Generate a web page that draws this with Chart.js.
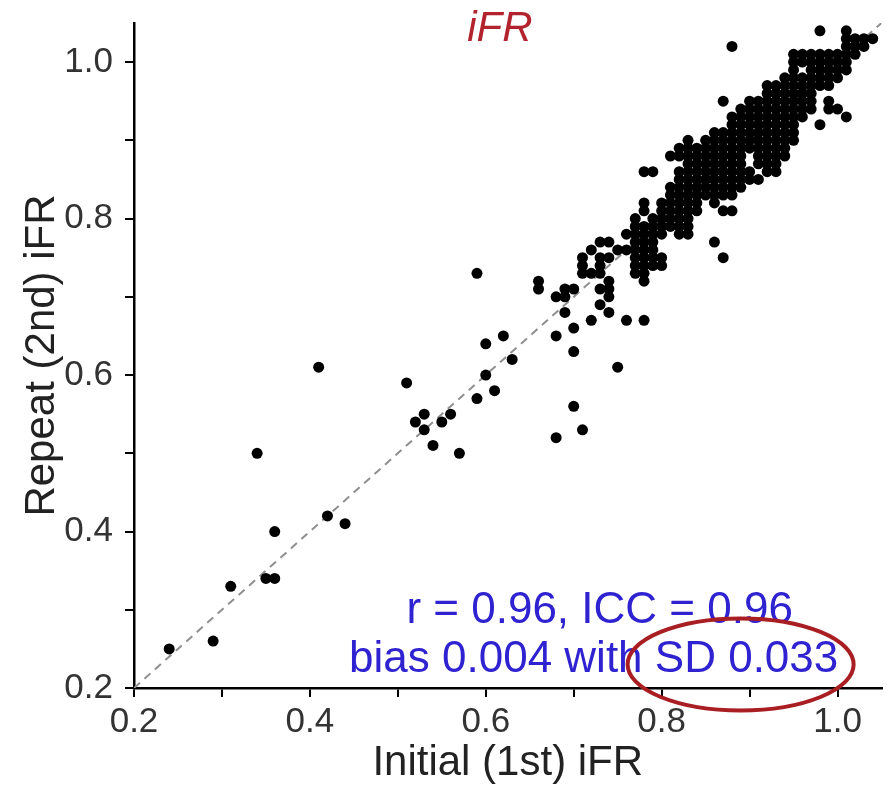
<!DOCTYPE html>
<html>
<head>
<meta charset="utf-8">
<script src="https://cdn.jsdelivr.net/npm/chart.js@4.4.1/dist/chart.umd.min.js"></script>
<style>
  body { margin: 0; background: #fff; }
  #wrap { width: 887px; height: 786px; position: relative; }
</style>
</head>
<body>
<div id="wrap"><canvas id="grafico-ifr"></canvas></div>
<script>
// Repeat (2nd) iFR value of each row of dots
const repeatRows = [
  1.04, 1.03, 1.02, 1.01, 1.00, 0.99, 0.98, 0.97, 0.96, 0.95,
  0.94, 0.93, 0.92, 0.91, 0.90, 0.89, 0.88, 0.87, 0.86, 0.85,
  0.84, 0.83, 0.82, 0.81, 0.80, 0.79, 0.78, 0.77, 0.76, 0.75,
  0.74, 0.73, 0.72, 0.71, 0.70, 0.69, 0.68, 0.67, 0.66, 0.65,
  0.64, 0.63, 0.62, 0.61, 0.60, 0.59, 0.58, 0.57, 0.56, 0.55,
  0.54, 0.53, 0.52, 0.51, 0.50, 0.42, 0.41, 0.40, 0.34, 0.33,
  0.26, 0.25
];

// Initial (1st) iFR values of the dots on each of those rows
const initialByRow = [
  [0.98, 1.01],
  [1.01, 1.02, 1.03, 1.04],
  [0.88, 1.01, 1.02, 1.03],
  [0.95, 0.96, 0.97, 0.98, 0.99, 1.00, 1.01, 1.02],
  [0.95, 0.96, 0.97, 0.98, 0.99, 1.00, 1.01],
  [0.95, 0.97, 0.98, 0.99, 1.00, 1.01],
  [0.94, 0.95, 0.96, 0.97, 0.98, 0.99, 1.00],
  [0.92, 0.93, 0.94, 0.95, 0.96, 0.97, 0.98, 0.99],
  [0.92, 0.93, 0.94, 0.95, 0.96, 0.97],
  [0.87, 0.90, 0.91, 0.92, 0.93, 0.94, 0.95, 0.96, 0.97, 0.99],
  [0.89, 0.90, 0.91, 0.92, 0.93, 0.94, 0.95, 0.96, 0.97, 0.99, 1.00],
  [0.88, 0.89, 0.90, 0.91, 0.92, 0.93, 0.94, 0.95, 0.96, 1.01],
  [0.88, 0.89, 0.90, 0.91, 0.92, 0.93, 0.94, 0.95, 0.98],
  [0.86, 0.87, 0.88, 0.89, 0.90, 0.91, 0.92, 0.93, 0.94, 0.95],
  [0.83, 0.85, 0.86, 0.87, 0.88, 0.89, 0.90, 0.91, 0.92, 0.93, 0.94, 0.95],
  [0.82, 0.83, 0.84, 0.85, 0.86, 0.87, 0.88, 0.89, 0.90, 0.91, 0.92, 0.93, 0.94],
  [0.81, 0.82, 0.83, 0.84, 0.85, 0.86, 0.87, 0.88, 0.89, 0.91, 0.92, 0.93, 0.94],
  [0.83, 0.84, 0.85, 0.86, 0.87, 0.88, 0.89, 0.91, 0.92, 0.93],
  [0.78, 0.79, 0.82, 0.83, 0.84, 0.85, 0.86, 0.87, 0.88, 0.89, 0.90, 0.92, 0.93],
  [0.82, 0.83, 0.84, 0.85, 0.86, 0.87, 0.88, 0.89, 0.90, 0.91],
  [0.81, 0.82, 0.83, 0.84, 0.85, 0.86, 0.87, 0.88, 0.89],
  [0.81, 0.82, 0.83, 0.84, 0.85, 0.86, 0.87, 0.88],
  [0.78, 0.80, 0.81, 0.82, 0.83, 0.84, 0.86],
  [0.78, 0.80, 0.81, 0.82, 0.83, 0.84, 0.87, 0.88],
  [0.77, 0.79, 0.80, 0.81, 0.82, 0.83],
  [0.77, 0.78, 0.79, 0.80, 0.81, 0.82, 0.83],
  [0.76, 0.77, 0.78, 0.79, 0.80, 0.82, 0.83],
  [0.73, 0.74, 0.77, 0.78, 0.79, 0.86],
  [0.72, 0.75, 0.76, 0.77, 0.78, 0.79],
  [0.71, 0.73, 0.74, 0.77, 0.78, 0.79, 0.80, 0.87],
  [0.71, 0.73, 0.77, 0.78, 0.79, 0.80],
  [0.59, 0.71, 0.72, 0.73, 0.77, 0.78],
  [0.66, 0.74, 0.78],
  [0.66, 0.69, 0.70, 0.73, 0.74],
  [0.68, 0.69, 0.74],
  [0.73],
  [0.69, 0.74],
  [0.72, 0.76, 0.78],
  [0.70],
  [0.62, 0.68],
  [0.60],
  [0.70],
  [0.63],
  [0.41, 0.75],
  [0.60],
  [0.51],
  [0.61],
  [0.59],
  [0.70],
  [0.53, 0.56],
  [0.52, 0.55],
  [0.53, 0.71],
  [0.68],
  [0.54],
  [0.34, 0.57],
  [0.42],
  [0.44],
  [0.36],
  [0.35, 0.36],
  [0.31],
  [0.29],
  [0.24]
];

// Line of identity and axis ticks
const identityLine = [0.2, 1.05];
const tickValues = [0.2, 0.3, 0.4, 0.5, 0.6, 0.7, 0.8, 0.9, 1.0];
const tickLabels = ['0.2', '', '0.4', '', '0.6', '', '0.8', '', '1.0'];

const statsLines = ['r = 0.96, ICC = 0.96', 'bias 0.004 with SD 0.033'];

const points = [];
repeatRows.forEach(function(yv, i) {
    initialByRow[i].forEach(function(xv) {
        points.push({ x: xv, y: yv });
    });
});

const FONT = '"Liberation Sans", Arial, sans-serif';

// textos e elipse desenhados por cima do gráfico
const annotations = {
    id: 'annotations',
    afterDraw(chart) {
        const ctx = chart.ctx;
        const x = chart.scales.x, y = chart.scales.y;
        ctx.save();
        ctx.textAlign = 'center';
        ctx.textBaseline = 'middle';

        ctx.font = 'italic 42px ' + FONT;
        ctx.fillStyle = '#b3232e';
        ctx.fillText('iFR', x.getPixelForValue(0.616), y.getPixelForValue(1.042));

        ctx.font = '44px ' + FONT;
        ctx.fillStyle = '#2f22d0';
        ctx.fillText(statsLines[0], x.getPixelForValue(0.7295), y.getPixelForValue(0.298));
        ctx.fillText(statsLines[1], x.getPixelForValue(0.7227), y.getPixelForValue(0.2364));

        ctx.beginPath();
        ctx.ellipse(x.getPixelForValue(0.8898), y.getPixelForValue(0.2301), 113, 46, 0, 0, Math.PI * 2);
        ctx.strokeStyle = '#a81e22';
        ctx.lineWidth = 4;
        ctx.stroke();
        ctx.restore();
    }
};

function axisOptions(title, isX) {
    return {
        type: 'linear',
        min: 0.2,
        max: 1.05,
        afterBuildTicks: function(scale) {
            scale.ticks = tickValues.map(function(v) { return { value: v }; });
        },
        afterFit: function(scale) {
            if (isX) {
                scale.height = 98;
                scale.paddingLeft = 0;
                scale.paddingRight = 0;
            } else {
                scale.width = 134;
                scale.paddingTop = 0;
                scale.paddingBottom = 0;
            }
        },
        ticks: {
            autoSkip: false,
            maxRotation: 0,
            padding: isX ? 4 : 12,
            color: '#333',
            font: { family: FONT, size: 35 },
            callback: function(value, index) { return tickLabels[index]; }
        },
        grid: {
            drawOnChartArea: false,
            drawTicks: true,
            tickLength: 9,
            color: '#000',
            lineWidth: 2
        },
        border: { color: '#000', width: 2.5 },
        title: {
            display: true,
            text: title,
            color: '#222',
            font: { family: FONT, size: 42, lineHeight: 1 },
            padding: isX ? { top: 0, bottom: 2 } : { top: 21, bottom: 0 }
        }
    };
}

document.addEventListener('DOMContentLoaded', function() {
    const ctx = document.getElementById('grafico-ifr').getContext('2d');

    new Chart(ctx, {
        type: 'scatter',
        data: {
            datasets: [
                {
                    label: 'iFR',
                    data: points,
                    backgroundColor: '#000',
                    borderWidth: 0,
                    pointRadius: 5.5,
                    pointHoverRadius: 5.5,
                    order: 1
                },
                {
                    label: 'identity',
                    type: 'line',
                    data: identityLine.map(function(v) { return { x: v, y: v }; }),
                    borderColor: '#8f8f8f',
                    borderWidth: 2,
                    borderDash: [8, 6],
                    pointRadius: 0,
                    fill: false,
                    order: 2
                }
            ]
        },
        options: {
            responsive: true,
            maintainAspectRatio: false,
            animation: false,
            layout: { padding: { top: 23, right: 5, left: 0, bottom: 0 } },
            plugins: {
                legend: { display: false },
                tooltip: { enabled: false }
            },
            scales: {
                x: axisOptions('Initial (1st) iFR', true),
                y: axisOptions('Repeat (2nd) iFR', false)
            }
        },
        plugins: [annotations]
    });
});
</script>
</body>
</html>
